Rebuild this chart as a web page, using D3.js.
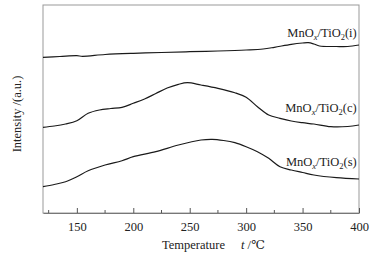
<!DOCTYPE html>
<html>
<head>
<meta charset="utf-8">
<script src="https://cdn.jsdelivr.net/npm/d3@7"></script>
<style>
  body { margin: 0; background: #fff; }
  text { font-family: "Liberation Serif", "DejaVu Serif", serif; fill: #222; }
</style>
</head>
<body>
<div class="chart"></div>
<script>
// temperatures (°C) and intensity (a.u.)
const tempI = [120, 135, 150, 155, 175, 200, 225, 250, 275, 300, 315, 325, 340, 350, 355, 360, 365, 380, 390, 400]
const seriesI = [155.7, 156.5, 157.3, 156.7, 158.5, 159.7, 160.5, 161.3, 162, 163, 164, 165.7, 168.7, 170, 170.3, 169, 167, 166.5, 166.5, 168]

const tempC = [120, 130, 140, 150, 160, 170, 180, 190, 200, 210, 220, 230, 240, 248, 260, 275, 290, 300, 310, 320, 330, 340, 350, 360, 375, 390, 400]
const seriesC = [85.7, 87, 89, 92.3, 99.7, 103, 104.5, 105.7, 109.7, 114, 119.5, 125, 128.7, 130.3, 128, 124.7, 120.3, 115.7, 106.3, 98, 94.7, 92, 90.3, 89, 86.3, 86.5, 88]

const tempS = [120, 130, 140, 150, 160, 175, 190, 200, 220, 240, 260, 270, 280, 290, 300, 310, 320, 330, 340, 350, 360, 380, 400]
const seriesS = [26.3, 28.5, 31.3, 36.3, 42.3, 48, 52.3, 56.3, 61.3, 68, 73, 73.7, 72.5, 70.3, 66.3, 61.3, 54.7, 46.3, 43, 40.5, 38, 35.3, 34]

const seriesNames = ["i", "c", "s"]
const labelLevels = [176, 101, 47]

const xTicks = [150, 200, 250, 300, 350, 400]
const xMinorTicks = [125, 175, 225, 275, 325, 375]

const width = 388
const height = 257
const margin = { top: 5, right: 29, bottom: 44, left: 43 }

const svg = d3.select(".chart")
    .append("svg")
    .attr("width", width)
    .attr("height", height)

const x = d3.scaleLinear()
    .domain([120, 400])
    .range([margin.left, width - margin.right])

const y = d3.scaleLinear()
    .domain([0, 208])
    .range([height - margin.bottom, margin.top])

// frame
svg.append("rect")
    .attr("x", margin.left)
    .attr("y", margin.top)
    .attr("width", width - margin.left - margin.right)
    .attr("height", height - margin.top - margin.bottom)
    .attr("fill", "none")
    .attr("stroke", "#999")
    .attr("stroke-width", 1)

// bottom axis, ticks pointing inward
const xAxis = svg.append("g")
    .attr("transform", `translate(0,${height - margin.bottom})`)
    .call(d3.axisBottom(x).tickValues(xTicks).tickSizeInner(-5).tickSizeOuter(0).tickPadding(9))

xAxis.select(".domain").attr("stroke", "#777")
xAxis.selectAll(".tick line").attr("stroke", "#555")
xAxis.selectAll(".tick text")
    .attr("font-size", "12.5px")
    .attr("font-family", "Liberation Serif, serif")
    .attr("fill", "#222")

svg.append("g")
    .selectAll("line")
    .data(xMinorTicks)
    .join("line")
    .attr("x1", d => x(d))
    .attr("x2", d => x(d))
    .attr("y1", height - margin.bottom)
    .attr("y2", height - margin.bottom - 3)
    .attr("stroke", "#555")

// curves
const line = d3.line()
    .x(d => x(d[0]))
    .y(d => y(d[1]))
    .curve(d3.curveCatmullRom)

const curves = [
    d3.zip(tempI, seriesI),
    d3.zip(tempC, seriesC),
    d3.zip(tempS, seriesS)
]

svg.append("g")
    .selectAll("path")
    .data(curves)
    .join("path")
    .attr("d", line)
    .attr("fill", "none")
    .attr("stroke", "#1a1a1a")
    .attr("stroke-width", 1.2)

// series labels MnOx/TiO2(...)
const labels = svg.append("g")
    .selectAll("text")
    .data(seriesNames)
    .join("text")
    .attr("x", x(398))
    .attr("y", (d, i) => y(labelLevels[i]))
    .attr("text-anchor", "end")
    .attr("font-size", "12.5px")

labels.append("tspan").text("MnO")
labels.append("tspan").text("x").attr("font-size", "8.5px").attr("font-style", "italic").attr("dy", 3)
labels.append("tspan").text("/TiO").attr("dy", -3)
labels.append("tspan").text("2").attr("font-size", "8.5px").attr("dy", 3)
labels.append("tspan").text(d => `(${d})`).attr("dy", -3)

// axis titles
svg.append("text")
    .attr("x", 162)
    .attr("y", 249)
    .attr("font-size", "12.5px")
    .text("Temperature")

const unit = svg.append("text")
    .attr("x", 241)
    .attr("y", 249)
    .attr("font-size", "12.5px")
unit.append("tspan").text("t").attr("font-style", "italic")
unit.append("tspan").text(" /℃")

svg.append("text")
    .attr("transform", `translate(21,114) rotate(-90)`)
    .attr("text-anchor", "middle")
    .attr("font-size", "12.5px")
    .text("Intensity /(a.u.)")
</script>
</body>
</html>
